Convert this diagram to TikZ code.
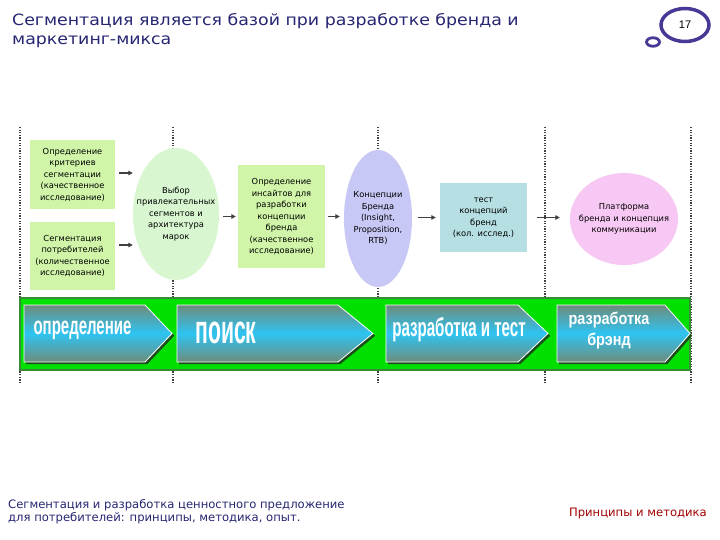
\documentclass[tikz,border=0pt]{standalone}
\usepackage{graphicx}
\usepackage{fontspec}
\setmainfont{DejaVu Sans}
\newfontfamily\titlefont[FakeStretch=1.12]{DejaVu Sans}
\newfontfamily\bandfont{Liberation Sans}
\newfontfamily\numfont{Liberation Sans}
\usetikzlibrary{shapes.geometric,arrows.meta}
\definecolor{navy}{HTML}{262673}
\definecolor{footred}{HTML}{A00000}
\definecolor{pgpurple}{HTML}{463A96}
\definecolor{boxgreen}{HTML}{D0F5A8}
\definecolor{ellgreen}{HTML}{D8F7D0}
\definecolor{lavender}{HTML}{C8C8F6}
\definecolor{tealbox}{HTML}{B6DFE3}
\definecolor{pinkc}{HTML}{F8C8F4}
\definecolor{bandgreen}{HTML}{00E000}
\definecolor{bandedge}{HTML}{3A8A3A}
\definecolor{chevshadow}{HTML}{1C4D1C}
\definecolor{chevgray}{HTML}{6E8C7C}
\definecolor{chevcyan}{HTML}{2EC4F2}
\definecolor{arrgray}{HTML}{404040}
\newcommand\mychev[3]{%
  \fill[chevshadow,shift={(2.2,2.2)}] (#1,305) -- (#2,305) -- (#3,333.5) -- (#2,362) -- (#1,362) -- cycle;
  \shade[top color=chevgray,bottom color=chevgray,middle color=chevcyan] (#1,305) -- (#2,305) -- (#3,333.5) -- (#2,362) -- (#1,362) -- cycle;
  \draw[white,line width=0.8] (#1,305) -- (#2,305) -- (#3,333.5) -- (#2,362) -- (#1,362) -- cycle;
}
\begin{document}
\begin{tikzpicture}[x=1pt,y=-1pt,
  txt/.style={font=\fontsize{8.3}{11.5}\selectfont, align=center, text=black},
  gbox/.style={txt, fill=boxgreen, inner sep=0},
  ellnode/.style={txt, ellipse, inner xsep=-12, inner ysep=0},
  arr/.style={arrgray, line width=1.2, -{Triangle[length=4.5pt,width=4.5pt]}},
  vdots/.style={draw=black!75, line width=1.3, dash pattern=on 1.3pt off 1.3pt},
  chevtext/.style={text=white, font=\bandfont\bfseries, inner sep=0}]
\useasboundingbox[fill=white] (0,0) rectangle (720,540);

% title
\node[anchor=base west, align=left, text=navy, inner sep=0,
  font=\titlefont\fontsize{15.5}{19.5}\selectfont] (title) at (12,45)
  {Сегментация является базой при разработке бренда и\\маркетинг-микса};

% page number
\node[ellipse, draw=pgpurple, line width=3.5, minimum width=48, minimum height=33,
  inner sep=0, font=\numfont\fontsize{11}{11}\selectfont] (pg) at (685,25) {17};
\node[ellipse, draw=pgpurple, line width=2.8, minimum width=13, minimum height=8.5,
  inner sep=0] (pgs) at (653,42) {};

% vertical dotted lines
\foreach \x in {20,173,378,545,691} \draw[vdots] (\x,127) -- (\x,382);

% band
\draw[fill=bandgreen, draw=bandedge, line width=1.5] (20,298) rectangle (690,370);
\mychev{24}{145}{172}
\mychev{177}{338}{373}
\mychev{386}{518}{548}
\mychev{557}{665}{690}
\node[chevtext, font=\bandfont\bfseries\fontsize{25}{25}\selectfont] (c1) at (82.5,330)
  {\scalebox{0.6}[1]{определение}};
\node[chevtext, font=\bandfont\bfseries\fontsize{40}{40}\selectfont] (c2) at (226,333)
  {\scalebox{0.53}[1]{поиск}};
\node[chevtext, font=\bandfont\bfseries\fontsize{26}{26}\selectfont] (c3) at (459,330)
  {\scalebox{0.58}[1]{разработка и тест}};
\node[chevtext, align=center, font=\bandfont\bfseries\fontsize{17}{21}\selectfont] (c4) at (609,331)
  {\scalebox{0.85}[1]{разработка}\\\scalebox{0.85}[1]{брэнд}};

% process nodes
\node[gbox, minimum width=85, minimum height=69] (b1) at (72.5,174.5)
  {Определение\\критериев\\сегментации\\(качественное\\исследование)};
\node[gbox, minimum width=85, minimum height=68] (b2) at (72.5,256)
  {Сегментация\\потребителей\\(количественное\\исследование)};
\node[ellnode, fill=ellgreen, minimum width=86, minimum height=132] (e1) at (176,214)
  {Выбор\\привлекательных\\сегментов и\\архитектура\\марок};
\node[gbox, minimum width=87, minimum height=103] (b3) at (281.5,216.5)
  {Определение\\инсайтов для\\разработки\\концепции\\бренда\\(качественное\\исследование)};
\node[ellnode, fill=lavender, minimum width=68, minimum height=137] (e2) at (378,218.5)
  {Концепции\\Бренда\\(Insight,\\Proposition,\\RTB)};
\node[gbox, fill=tealbox, minimum width=87, minimum height=69] (b4) at (483.5,217.5)
  {тест\\концепций\\бренд\\(кол. исслед.)};
\node[ellnode, fill=pinkc, minimum width=108, minimum height=92] (p) at (624,219)
  {Платформа\\бренда и концепция\\коммуникации};

% connectors
\draw[arr, shorten <=4] ([yshift=1.5]b1.east) -- ([yshift=1.5]b1.east -| e1.west);
\draw[arr, shorten <=4] ([yshift=11]b2.east) -- ([yshift=11]b2.east -| e1.west);
\draw[arr, shorten <=4, shorten >=2] (b3.west -| e1.east) -- (b3.west);
\draw[arr, shorten <=3, shorten >=4] (b3.east) -- (b3.east -| e2.west);
\draw[arr, shorten <=6, shorten >=4] (b4.west -| e2.east) -- (b4.west);
\draw[arr, shorten <=10, shorten >=10] (b4.east) -- (b4.east -| p.west);

% footer
\node[anchor=base west, align=left, text=navy, inner sep=0,
  font=\fontsize{11.6}{12.8}\selectfont] (foot) at (8,521)
  {Сегментация и разработка ценностного предложение\\для потребителей: принципы, методика, опыт.};
\node[anchor=base east, text=footred, inner sep=0,
  font=\fontsize{11.6}{12.8}\selectfont] (footr) at (707,516) {Принципы и методика};
\end{tikzpicture}
\end{document}
